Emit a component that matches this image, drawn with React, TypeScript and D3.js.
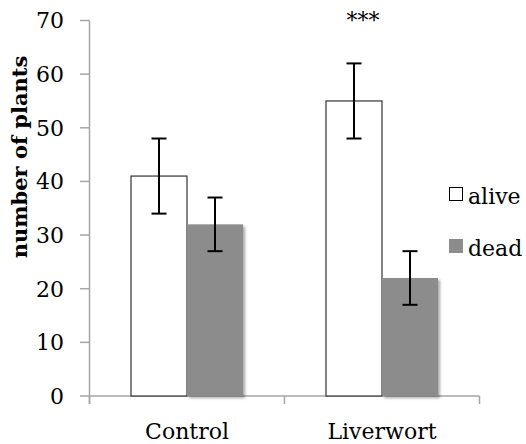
import React from "react";
import * as d3 from "d3";

const categories = ["Control", "Liverwort"];
const seriesNames = ["alive", "dead"];
const aliveValues = [41, 55];
const aliveErrors = [7, 7];
const deadValues = [32, 22];
const deadErrors = [5, 5];
const yTicks = [0, 10, 20, 30, 40, 50, 60, 70];
const significance = ["", "***"];

const W = 526;
const H = 444;
const FONT = "'DejaVu Serif', serif";

export default function App() {
  const x = d3.scaleBand<string>().domain(categories).range([89.5, 479.5]).padding(0);
  const y = d3.scaleLinear().domain([0, 70]).range([396, 20.5]);
  const groupWidth = 112;
  const inner = d3
    .scaleBand<string>()
    .domain(seriesNames)
    .range([0, groupWidth])
    .padding(0);

  const series = [
    { name: "alive", values: aliveValues, errors: aliveErrors },
    { name: "dead", values: deadValues, errors: deadErrors },
  ];

  const axisColor = "#a6a6a6";
  const deadFill = "#8c8c8c";
  const capHalf = 7.5;

  return (
    <svg
      width={W}
      height={H}
      style={{ position: "absolute", left: 0, top: 0, background: "#fff" }}
    >
      <defs>
        <filter id="barShadow" x="-20%" y="-20%" width="140%" height="140%">
          <feDropShadow dx="2" dy="2" stdDeviation="1.6" floodColor="#000" floodOpacity="0.35" />
        </filter>
      </defs>

      {/* y axis */}
      <line x1={89.5} x2={89.5} y1={y(70)} y2={y(0) + 8} stroke={axisColor} strokeWidth={1.5} />
      {yTicks.map((t) => (
        <g key={t}>
          <line x1={80} x2={89.5} y1={y(t)} y2={y(t)} stroke={axisColor} strokeWidth={1.5} />
          <text
            x={64}
            y={y(t)}
            dy="0.36em"
            textAnchor="end"
            fontFamily={FONT}
            fontSize={22}
            fill="#000"
          >
            {t}
          </text>
        </g>
      ))}

      {/* x axis */}
      <line x1={89.5} x2={479.5} y1={y(0)} y2={y(0)} stroke={axisColor} strokeWidth={1.5} />
      {[...categories.map((c) => x(c) as number), 479.5].map((px, i) => (
        <line key={i} x1={px} x2={px} y1={y(0)} y2={y(0) + 8} stroke={axisColor} strokeWidth={1.5} />
      ))}

      {/* bars */}
      {categories.map((c, ci) => {
        const gx = (x(c) as number) + (x.bandwidth() - groupWidth) / 2;
        return (
          <g key={c}>
            {series.map((s) => {
              const bx = gx + (inner(s.name) as number);
              const v = s.values[ci];
              return s.name === "alive" ? (
                <rect
                  key={s.name}
                  x={bx}
                  y={y(v)}
                  width={inner.bandwidth()}
                  height={y(0) - y(v)}
                  fill="#fff"
                  stroke="#333"
                  strokeWidth={1.2}
                />
              ) : (
                <rect
                  key={s.name}
                  x={bx}
                  y={y(v)}
                  width={inner.bandwidth()}
                  height={y(0) - y(v)}
                  fill={deadFill}
                  filter="url(#barShadow)"
                />
              );
            })}
            {series.map((s) => {
              const cx = gx + (inner(s.name) as number) + inner.bandwidth() / 2;
              const v = s.values[ci];
              const e = s.errors[ci];
              return (
                <g key={s.name + "err"} stroke="#000" strokeWidth={2}>
                  <line x1={cx} x2={cx} y1={y(v + e)} y2={y(v - e)} />
                  <line x1={cx - capHalf} x2={cx + capHalf} y1={y(v + e)} y2={y(v + e)} />
                  <line x1={cx - capHalf} x2={cx + capHalf} y1={y(v - e)} y2={y(v - e)} />
                </g>
              );
            })}
            {significance[ci] && (
              <text
                x={gx + inner.bandwidth() / 2 + 9}
                y={28}
                textAnchor="middle"
                fontFamily={FONT}
                fontSize={22}
                fill="#000"
              >
                {significance[ci]}
              </text>
            )}
            <text
              x={(x(c) as number) + x.bandwidth() / 2}
              y={439}
              textAnchor="middle"
              fontFamily={FONT}
              fontSize={22}
              fill="#000"
            >
              {c}
            </text>
          </g>
        );
      })}

      {/* y axis title */}
      <text
        transform={`translate(27, 157) rotate(-90)`}
        textAnchor="middle"
        fontFamily={FONT}
        fontWeight="bold"
        fontSize={21}
        fill="#000"
      >
        number of plants
      </text>

      {/* legend */}
      {seriesNames.map((n, i) => {
        const ly = 187 + i * 52;
        return (
          <g key={n}>
            {n === "alive" ? (
              <rect x={449.5} y={ly + 0.5} width={13} height={13} fill="#fff" stroke="#000" strokeWidth={1} />
            ) : (
              <rect x={449} y={ly} width={14} height={14} fill={deadFill} />
            )}
            <text x={468} y={ly + 17} fontFamily={FONT} fontSize={22} fill="#000">
              {n}
            </text>
          </g>
        );
      })}
    </svg>
  );
}
